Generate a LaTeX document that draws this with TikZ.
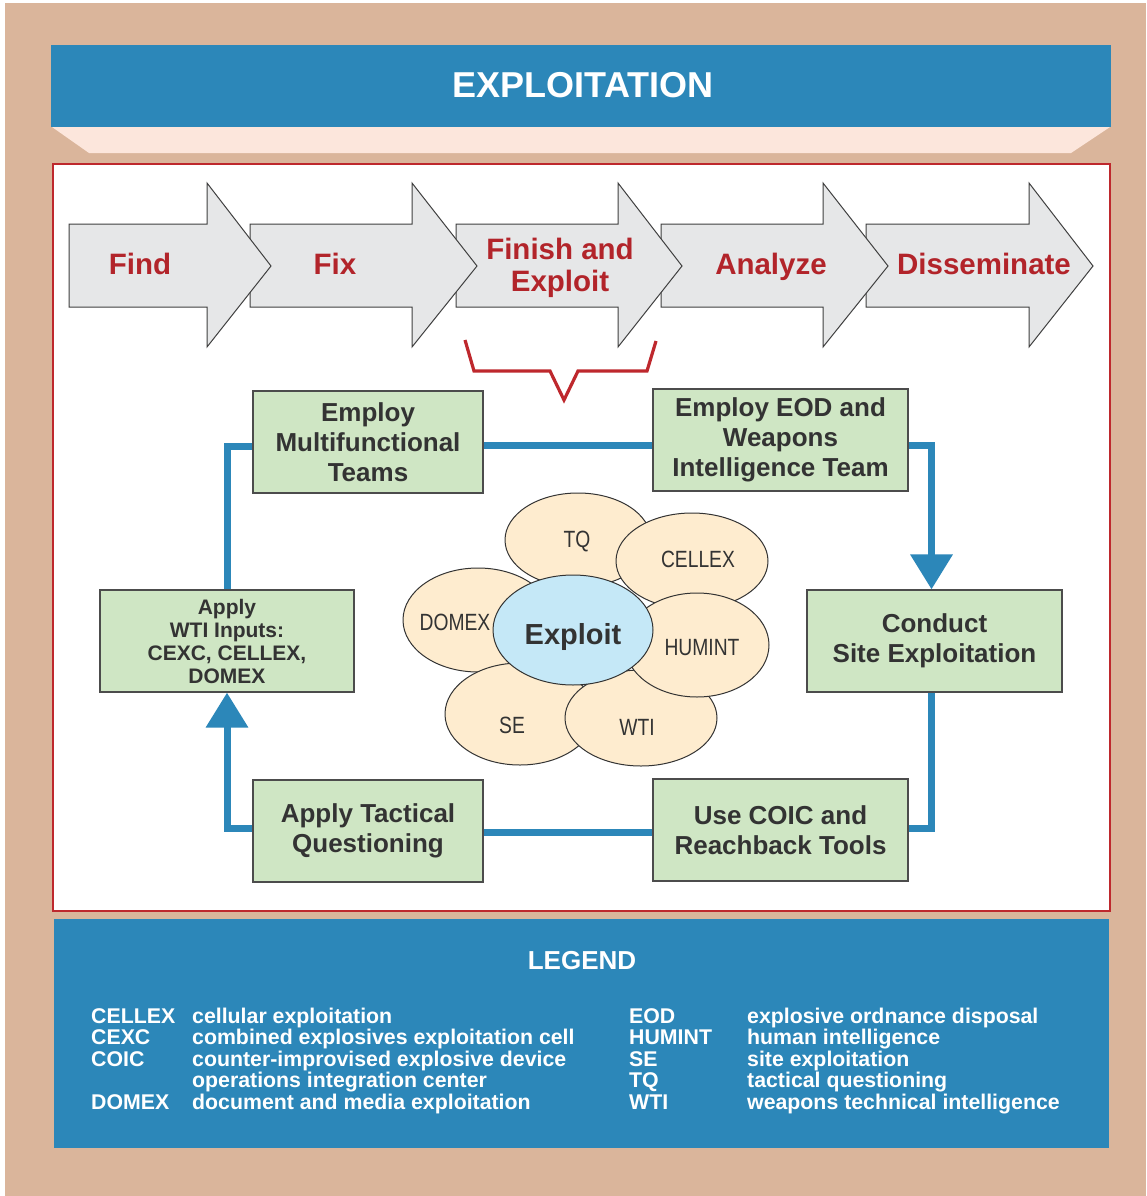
\documentclass[tikz,border=0pt]{standalone}
\usepackage{fontspec}
\setmainfont{Liberation Sans}
\newfontfamily\condfont[FakeStretch=0.82]{Liberation Sans}
\usetikzlibrary{arrows.meta,shapes.geometric}
\definecolor{tan}{RGB}{218,181,155}
\definecolor{bluebar}{RGB}{44,135,185}
\definecolor{pinkband}{RGB}{252,230,220}
\definecolor{redline}{RGB}{190,40,45}
\definecolor{arrowfill}{RGB}{230,231,232}
\definecolor{arrowtext}{RGB}{178,36,42}
\definecolor{greenfill}{RGB}{207,230,196}
\definecolor{boxtext}{RGB}{51,51,51}
\definecolor{petal}{RGB}{254,236,207}
\definecolor{core}{RGB}{197,232,247}
\tikzset{
  chev/.style={fill=arrowfill,draw=black!75,line width=1pt,line join=miter},
  chevtext/.style={text=arrowtext,font=\bfseries\fontsize{29.5}{32.7}\selectfont,align=center,inner sep=0pt},
  gbox/.style={fill=greenfill,draw=black!70,line width=1.3pt,inner sep=0pt,align=center,text=boxtext,font=\bfseries\fontsize{26}{30}\selectfont},
  conn/.style={draw=bluebar,line width=7pt,line join=miter},
  tip/.style={-{Triangle[width=41pt,length=35pt]}},
  petalshape/.style={ellipse,fill=petal,draw=black!80,line width=1pt,inner sep=0pt},
  petaltext/.style={text=boxtext,font=\condfont\fontsize{23.5}{26}\selectfont,inner sep=0pt},
  legtext/.style={text=white,font=\bfseries\fontsize{21.3}{22}\selectfont,inner sep=0pt,anchor=base west}
}
\begin{document}
\begin{tikzpicture}[x=1pt,y=-1pt]
\useasboundingbox (0,0) rectangle (1147,1196);
\fill[white] (0,0) rectangle (1147,1196);
\fill[tan] (5,3) rectangle (1146,1196);
% title
\fill[pinkband] (52,127) -- (1110,127) -- (1071,153) -- (89,153) -- cycle;
\fill[bluebar] (51,45) rectangle (1111,127);
\node[text=white,font=\bfseries\fontsize{36}{40}\selectfont,inner sep=0pt] (title) at (583,85) {EXPLOITATION};
% main panel
\draw[fill=white,draw=redline,line width=1.3pt] (53,164) rectangle (1110,911);
% process arrows
\foreach \L/\H/\T in {866/1029/1093,661/823/888,456/618/682,250/412/477,69/207/271}{
  \draw[chev] (\L,224) -- (\H,224) -- (\H,183) -- (\T,266) -- (\H,347) -- (\H,307) -- (\L,307) -- cycle;
}
\node[chevtext,anchor=base] (find) at (140,274) {Find};
\node[chevtext,anchor=base] (fix) at (335,274) {Fix};
\node[chevtext,anchor=base] (finish) at (560,291.7) {Finish and\\Exploit};
\node[chevtext,anchor=base] (analyze) at (771,274) {Analyze};
\node[chevtext,anchor=base] (dissem) at (984,274) {Disseminate};
% bracket
\draw[redline,line width=3.2pt,line join=miter] (465,340) -- (474,371) -- (550,371) -- (564,400) -- (578,371) -- (647,371) -- (656,341);
% green boxes
\node[gbox,minimum width=230pt,minimum height=102pt] (mft) at (368,442) {Employ\\Multifunctional\\Teams};
\node[gbox,minimum width=255pt,minimum height=102pt] (eod) at (780.5,440) {Employ EOD and\\Weapons\\Intelligence Team};
\node[gbox,minimum width=254pt,minimum height=102pt,font=\bfseries\fontsize{21}{23}\selectfont] (wti) at (227,641) {Apply\\WTI Inputs:\\CEXC, CELLEX,\\DOMEX};
\node[gbox,minimum width=255pt,minimum height=102pt] (cse) at (934.5,641) {Conduct\\Site Exploitation};
\node[gbox,minimum width=230pt,minimum height=102pt] (atq) at (368,831) {Apply Tactical\\Questioning};
\node[gbox,minimum width=255pt,minimum height=102pt] (coic) at (780.5,830) {Use COIC and\\Reachback Tools};
% connectors
\draw[conn] ([yshift=-3pt]mft.east) -- ([yshift=-3pt]mft.east -| eod.west);
\draw[conn,tip] ([yshift=-5pt]eod.east) -| ([xshift=-3pt]cse.north);
\draw[conn] ([xshift=-3pt]cse.south) |- ([yshift=2pt]coic.east);
\draw[conn] ([yshift=-2pt]coic.west) -- ([yshift=-2pt]coic.west -| atq.east);
\draw[conn,tip] ([yshift=3pt]atq.west) -| (wti.south);
\draw[conn] (wti.north) |- ([yshift=-4pt]mft.west);
% flower
\node[petalshape,minimum width=146pt,minimum height=94pt] (tq) at (578,540) {};
\node[petalshape,minimum width=150pt,minimum height=104pt] (domex) at (478,620) {};
\node[petalshape,minimum width=150pt,minimum height=102pt] (se) at (520,714) {};
\node[petalshape,minimum width=152pt,minimum height=96pt] (wtie) at (641,718) {};
\node[petalshape,minimum width=152pt,minimum height=96pt] (cellex) at (692,561) {};
\node[petalshape,minimum width=144pt,minimum height=104pt] (humint) at (697,645) {};
\node[ellipse,fill=core,draw=black!80,line width=1pt,minimum width=160pt,minimum height=110pt,inner sep=0pt] (exploit) at (573,630) {};
\node[petaltext] (tqt) at (577,542) {TQ};
\node[petaltext] (domext) at (455,622) {DOMEX};
\node[petaltext] (set) at (512,725) {SE};
\node[petaltext] (wtit) at (637,727) {WTI};
\node[petaltext] (cellext) at (698,559) {CELLEX};
\node[petaltext] (humintt) at (702,648) {HUMINT};
\node[text=boxtext,font=\bfseries\fontsize{29}{32}\selectfont,inner sep=0pt,anchor=base] (exploitt) at (573,644) {Exploit};
% legend
\fill[bluebar] (54,919) rectangle (1109,1148);
\node[text=white,font=\bfseries\fontsize{26}{30}\selectfont,inner sep=0pt] (legend) at (582,961) {LEGEND};
\foreach \i/\y/\a/\d in {1/1023/CELLEX/cellular exploitation,2/1044.5/CEXC/combined explosives exploitation cell,3/1066/COIC/counter-improvised explosive device,4/1087.5/{}/operations integration center,5/1109/DOMEX/document and media exploitation}{
  \node[legtext] (la\i) at (91,\y) {\a};
  \node[legtext] (ld\i) at (192,\y) {\d};
}
\foreach \i/\y/\a/\d in {1/1023/EOD/explosive ordnance disposal,2/1044.5/HUMINT/human intelligence,3/1066/SE/site exploitation,4/1087.5/TQ/tactical questioning,5/1109/WTI/weapons technical intelligence}{
  \node[legtext] (ra\i) at (629,\y) {\a};
  \node[legtext] (rd\i) at (747,\y) {\d};
}
\end{tikzpicture}
\end{document}
